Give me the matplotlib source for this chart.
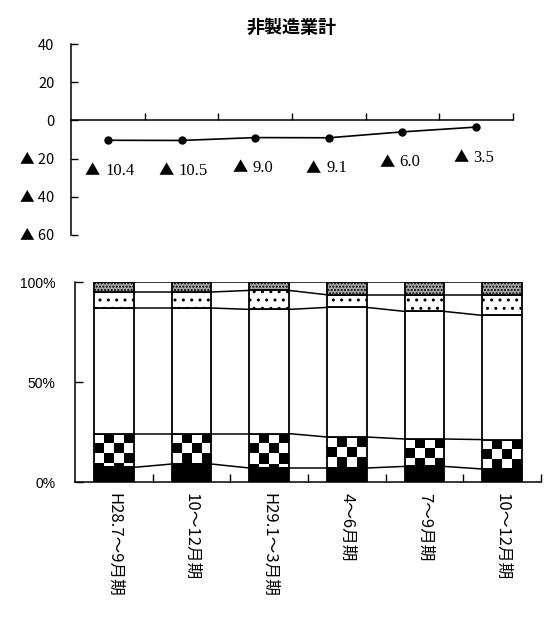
#非製造業計 : DI line (top) + 100% stacked bars (bottom)

import numpy as np
import matplotlib
matplotlib.use("Agg")
import matplotlib.pyplot as plt

plt.rcParams['font.family'] = ['Liberation Sans', 'Noto Sans CJK JP']

#data
periods = ["H28.7～9月期", "10～12月期", "H29.1～3月期", "4～6月期", "7～9月期", "10～12月期"]
di = [-10.4, -10.5, -9.0, -9.1, -6.0, -3.5]
yticks = [40, 20, 0, -20, -40, -60]
ytick_labels = ["40", "20", "0", "▲ 20", "▲ 40", "▲ 60"]

#stacked shares (bottom -> top), percent
s_black = [7.3, 9.0, 7.0, 7.0, 7.8, 6.5]
s_check = [16.9, 15.2, 17.2, 15.5, 13.7, 14.7]
s_white = [62.8, 62.8, 62.1, 64.8, 63.8, 62.1]
s_dots = [8.0, 8.0, 9.5, 6.3, 8.3, 10.3]
s_grey = [5.0, 5.0, 4.2, 6.4, 6.4, 6.4]
pct_ticks = [0, 50, 100]
pct_labels = ["0%", "50%", "100%"]

n = len(periods)
x = np.arange(n) + 0.5
bw = 0.51

fig = plt.figure(figsize=(5.5, 6.19), dpi=100)
W, H = 550, 619

####top chart
ax1 = fig.add_axes([71/W, 1-235/H, 442/W, 191/H])
ax1.plot(x, di, color='black', lw=1.2, marker='o', ms=5)
ax1.set_xlim(0, n)
ax1.set_ylim(-60, 40)
ax1.set_yticks(yticks)
ax1.set_yticklabels(ytick_labels, family=['Noto Sans CJK JP'], fontsize=10.5)
ax1.set_xticks(np.arange(1, n+1))
ax1.set_xticklabels([])
ax1.spines['top'].set_visible(False)
ax1.spines['right'].set_visible(False)
ax1.spines['bottom'].set_position(('data', 0))
ax1.tick_params(axis='both', direction='in', length=5, width=1, color='black')
ax1.tick_params(axis='y', pad=12)
for sp in ax1.spines.values():
    sp.set_linewidth(1.1)
ax1.set_title("非製造業計", family=['Noto Sans CJK JP'], fontsize=13,
              fontweight='bold', pad=8)

#data labels: triangle + number below each point
for xi, v in zip(x, di):
    ax1.annotate("▲", (xi, v), xytext=(-11, -22), textcoords='offset points',
                 ha='center', va='center', family=['Noto Sans CJK JP'], fontsize=11)
    ax1.annotate(f"{abs(v):.1f}", (xi, v), xytext=(-2, -22), textcoords='offset points',
                 ha='left', va='center', family=['Liberation Serif'], fontsize=12)

####bottom chart
ax2 = fig.add_axes([75/W, 1-482/H, 466/W, 200/H])
ax2.set_xlim(0, n)
ax2.set_ylim(0, 100)

series = [s_black, s_check, s_white, s_dots, s_grey]
styles = [dict(facecolor='black'),
          dict(facecolor='none'),
          dict(facecolor='white'),
          dict(facecolor='white', hatch='..'),
          dict(facecolor='#a8a8a8', hatch='.....')]
bottom = np.zeros(n)
tops = []
check_bars = None
for vals, st in zip(series, styles):
    bars = ax2.bar(x, vals, bw, bottom=bottom, edgecolor='black', linewidth=1.3,
                   zorder=3, **st)
    if st['facecolor'] == 'none':
        check_bars = bars
    bottom = bottom + np.array(vals)
    tops.append(bottom.copy())

#checkerboard fill, ~10 px cells, clipped to each bar
pos = ax2.get_position()
ux = pos.width * W / n
uy = pos.height * H / 100
cx, cy = 10 / ux, 10 / uy
for b in check_bars:
    x0, y0 = b.get_x(), b.get_y()
    x1, y1 = x0 + b.get_width(), y0 + b.get_height()
    nx = int(np.ceil((x1 - x0) / cx))
    ny = int(np.ceil((y1 - y0) / cy))
    arr = 1 - np.add.outer(np.arange(ny), np.arange(nx)) % 2
    im = ax2.imshow(arr, cmap='gray', vmin=0, vmax=1, interpolation='nearest',
                    extent=(x0, x0 + nx*cx, y1 - ny*cy, y1), origin='upper',
                    aspect='auto', zorder=2)
    im.set_clip_path(b)

#series lines
for t in tops:
    for i in range(n - 1):
        ax2.plot([x[i] + bw/2, x[i+1] - bw/2], [t[i], t[i+1]], color='black',
                 lw=1.1, zorder=3)

ax2.set_xlim(0, n)
ax2.set_ylim(0, 100)
ax2.set_yticks(pct_ticks)
ax2.set_yticklabels(pct_labels, fontsize=10)
ax2.set_xticks(np.arange(1, n+1))
ax2.set_xticklabels([])
ax2.set_xticks(x, minor=True)
ax2.set_xticklabels(periods, minor=True, rotation=270, family=['Noto Sans CJK JP'],
                    fontsize=12, va='top', ha='center')
ax2.tick_params(axis='x', which='minor', length=0, pad=8)
ax2.tick_params(axis='both', which='major', direction='in', length=6, width=1,
                color='black')
ax2.tick_params(axis='y', pad=14)
ax2.spines['top'].set_visible(False)
ax2.spines['right'].set_visible(False)
for sp in ax2.spines.values():
    sp.set_linewidth(1.1)

fig.savefig("out.png", dpi=100)
